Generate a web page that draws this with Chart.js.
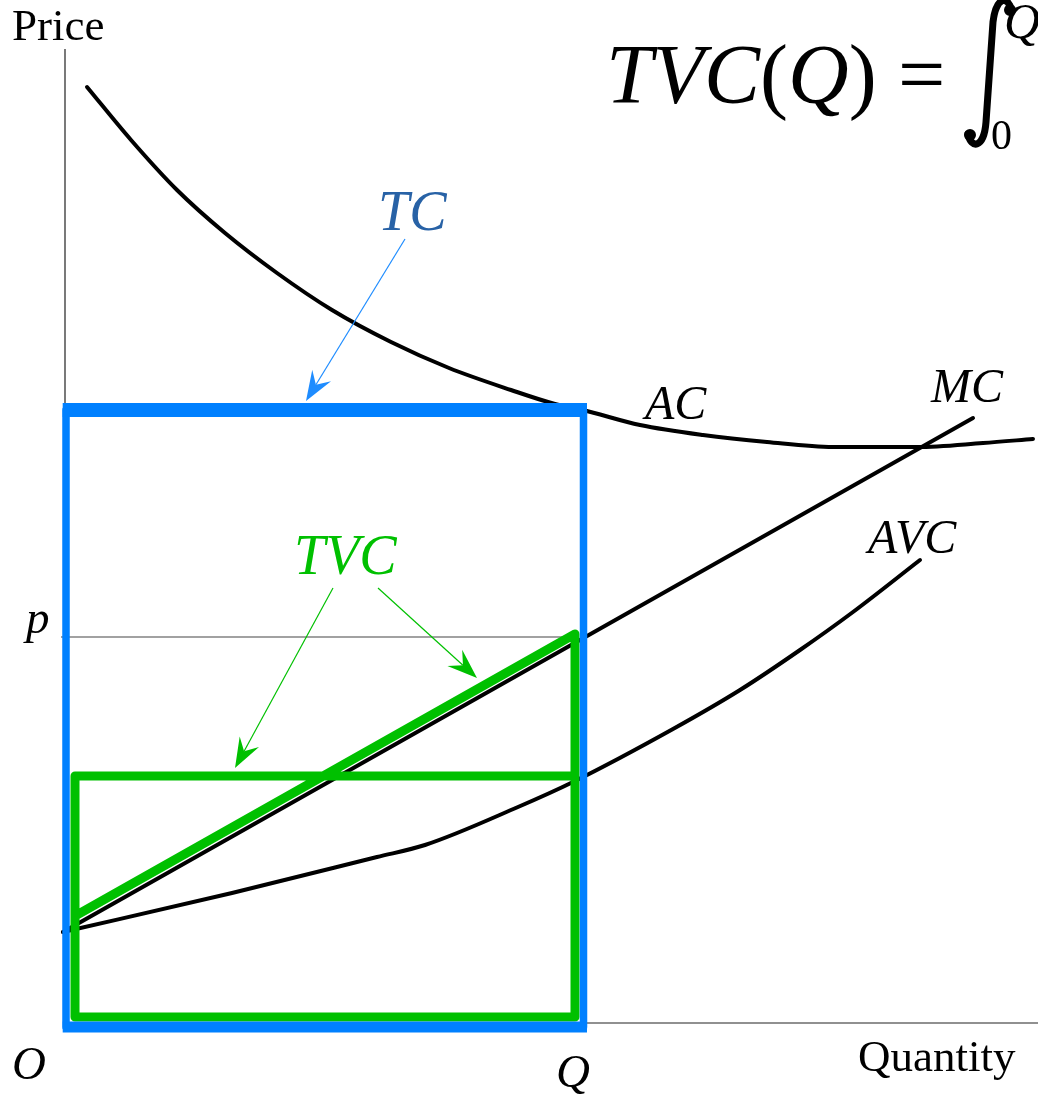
<!DOCTYPE html>
<html>
<head>
<meta charset="utf-8">
<script src="https://cdn.jsdelivr.net/npm/chart.js@4.4.1/dist/chart.umd.min.js"></script>
<style>
  html, body { margin: 0; padding: 0; background: #fff; }
  #wrap { width: 1038px; height: 1097px; }
</style>
</head>
<body>
<div id="wrap"><canvas id="costChart"></canvas></div>
<script>
'use strict';

/* --------------------------------------------------------------------------
   DATA (quantity / price units, origin at O)
   -------------------------------------------------------------------------- */
const X_MAX = 973;
const Y_MAX = 974;

// average cost
const acQ = [22, 66, 112, 160, 212, 267, 326, 384, 446, 490, 518, 575, 638, 702, 768, 852, 918, 968];
const acP = [936, 883, 833, 790, 750, 713, 681, 655, 633, 619, 613, 598, 588, 581, 576, 576, 580, 584];

// marginal cost (straight line)
const mcQ = [-2, 908];
const mcP = [91, 605];

// average variable cost
const avcQ = [-2, 167, 312, 360, 453, 508, 608, 675, 735, 788, 855];
const avcP = [91, 130, 166, 178, 216, 241, 294, 333, 373, 411, 463];

// total cost box: 0..Q by 0..AC(Q)
const tcSideQ = [1, 1, 518.5, 518.5];
const tcSideP = [613, -4, -4, 613];
const tcTopQ = [-2.3, 522];
const tcTopP = [613, 613];
const tcBottomQ = [-2.3, 522];
const tcBottomP = [-4, -4];

// total variable cost: AVC box and area under MC
const tvcQ = [510, 10, 10, 510, 510, 10];
const tvcP = [247, 247, 6, 6, 389, 107];

// price level p
const pLineQ = [-4, 510];
const pLineP = [386, 386];

// axes
const axisQ = [0, 0, X_MAX];
const axisP = [Y_MAX, 0, 0];

// annotation arrows: [fromQ, fromP, toQ, toP]
const tcArrow = [340, 784, 241, 622];
const tvcArrows = [
    [268, 435, 170, 255],
    [313, 435, 412, 345],
];

/* --------------------------------------------------------------------------
   HELPERS
   -------------------------------------------------------------------------- */
const pts = (xs, ys) => xs.map((x, i) => ({ x, y: ys[i] }));

const COLORS = {
    ink: '#000000',
    axis: '#222222',
    tcBox: '#0080FF',
    tcText: '#2862A6',
    tcArrow: '#1E8CFF',
    tvc: '#00C000',
};

const SERIF = "'Liberation Serif', 'Times New Roman', Times, serif";

function line(label, data, color, width, extra) {
    return Object.assign({
        label,
        data,
        showLine: true,
        borderColor: color,
        backgroundColor: color,
        borderWidth: width,
        pointRadius: 0,
        tension: 0,
        fill: false,
        clip: false,
        borderCapStyle: 'round',
        borderJoinStyle: 'round',
    }, extra || {});
}

function drawArrow(ctx, sx, sy, ex, ey, color) {
    const dx = ex - sx, dy = ey - sy;
    const len = Math.hypot(dx, dy);
    const ux = dx / len, uy = dy / len;
    const nx = -uy, ny = ux;
    const back = 30, half = 11, notch = 19;
    ctx.save();
    ctx.strokeStyle = color;
    ctx.fillStyle = color;
    ctx.lineWidth = 1.2;
    ctx.beginPath();
    ctx.moveTo(sx, sy);
    ctx.lineTo(ex - ux * notch, ey - uy * notch);
    ctx.stroke();
    ctx.beginPath();
    ctx.moveTo(ex, ey);
    ctx.lineTo(ex - ux * back + nx * half, ey - uy * back + ny * half);
    ctx.lineTo(ex - ux * notch, ey - uy * notch);
    ctx.lineTo(ex - ux * back - nx * half, ey - uy * back - ny * half);
    ctx.closePath();
    ctx.fill();
    ctx.restore();
}

function text(ctx, str, x, y, size, italic, color) {
    ctx.font = (italic ? 'italic ' : '') + size + 'px ' + SERIF;
    ctx.fillStyle = color || COLORS.ink;
    ctx.fillText(str, x, y);
    return x + ctx.measureText(str).width;
}

/* --------------------------------------------------------------------------
   ANNOTATION PLUGIN: arrows, labels and the TVC formula
   -------------------------------------------------------------------------- */
const costAnnotations = {
    id: 'costAnnotations',
    afterDatasetsDraw(chart) {
        const { ctx, scales: { x, y } } = chart;
        const px = q => x.getPixelForValue(q);
        const py = p => y.getPixelForValue(p);

        drawArrow(ctx, px(tcArrow[0]), py(tcArrow[1]), px(tcArrow[2]), py(tcArrow[3]), COLORS.tcArrow);
        tvcArrows.forEach(a => drawArrow(ctx, px(a[0]), py(a[1]), px(a[2]), py(a[3]), COLORS.tvc));

        ctx.save();
        ctx.textBaseline = 'alphabetic';
        ctx.textAlign = 'left';

        // axis titles and tick letters
        text(ctx, 'Price', 12, 40, 45, false);
        text(ctx, 'Quantity', 858, 1071, 45, false);
        text(ctx, 'O', 12, 1079, 47, true);
        text(ctx, 'Q', 556, 1087, 47, true);
        text(ctx, 'p', 26, 633, 47, true);

        // curve labels
        text(ctx, 'AC', 645, 419, 48, true);
        text(ctx, 'MC', 931, 402, 48, true);
        text(ctx, 'AVC', 868, 553, 48, true);
        text(ctx, 'TC', 378, 230, 56, true, COLORS.tcText);
        text(ctx, 'TVC', 294, 574, 56, true, COLORS.tvc);

        // formula TVC(Q) = ∫_0^Q
        let cx = 606;
        cx = text(ctx, 'TVC', cx, 103, 84, true);
        cx = text(ctx, '(', cx, 103, 84, false);
        cx = text(ctx, 'Q', cx, 103, 84, true);
        text(ctx, ')', cx, 103, 84, false);
        text(ctx, '=', 898, 103, 84, false);

        ctx.strokeStyle = COLORS.ink;
        ctx.fillStyle = COLORS.ink;
        ctx.lineWidth = 7;
        ctx.lineCap = 'round';
        ctx.beginPath();
        ctx.moveTo(1011, 9);
        ctx.bezierCurveTo(1008, -4, 996, -4, 993, 22);
        ctx.lineTo(986, 122);
        ctx.bezierCurveTo(984, 149, 971, 149, 968, 134);
        ctx.stroke();
        ctx.beginPath();
        ctx.arc(1010, 10, 6, 0, Math.PI * 2);
        ctx.arc(970, 135, 6, 0, Math.PI * 2);
        ctx.fill();

        text(ctx, '0', 991, 149, 42, false);
        text(ctx, 'Q', 1004, 38, 50, true);
        ctx.restore();
    },
};

/* --------------------------------------------------------------------------
   CHART
   -------------------------------------------------------------------------- */
new Chart(document.getElementById('costChart').getContext('2d'), {
    type: 'scatter',
    data: {
        datasets: [
            line('TC top', pts(tcTopQ, tcTopP), COLORS.tcBox, 14, { borderCapStyle: 'butt' }),
            line('TC bottom', pts(tcBottomQ, tcBottomP), COLORS.tcBox, 11, { borderCapStyle: 'butt' }),
            line('TC sides', pts(tcSideQ, tcSideP), COLORS.tcBox, 7.5, { borderCapStyle: 'butt' }),
            line('TVC', pts(tvcQ, tvcP), COLORS.tvc, 9, { borderCapStyle: 'butt' }),
            line('AC', pts(acQ, acP), COLORS.ink, 4, { cubicInterpolationMode: 'monotone' }),
            line('MC', pts(mcQ, mcP), COLORS.ink, 4),
            line('AVC', pts(avcQ, avcP), COLORS.ink, 4, { cubicInterpolationMode: 'monotone' }),
            line('p', pts(pLineQ, pLineP), '#444444', 1.2, { borderCapStyle: 'butt' }),
            line('axes', pts(axisQ, axisP), COLORS.axis, 1.2, { borderCapStyle: 'butt', borderJoinStyle: 'miter' }),
        ],
    },
    options: {
        responsive: true,
        maintainAspectRatio: false,
        animation: false,
        layout: { padding: { left: 65, top: 49, right: 0, bottom: 74 } },
        plugins: {
            legend: { display: false },
            tooltip: { enabled: false },
        },
        scales: {
            x: { type: 'linear', min: 0, max: X_MAX, display: false },
            y: { type: 'linear', min: 0, max: Y_MAX, display: false },
        },
    },
    plugins: [costAnnotations],
});
</script>
</body>
</html>
